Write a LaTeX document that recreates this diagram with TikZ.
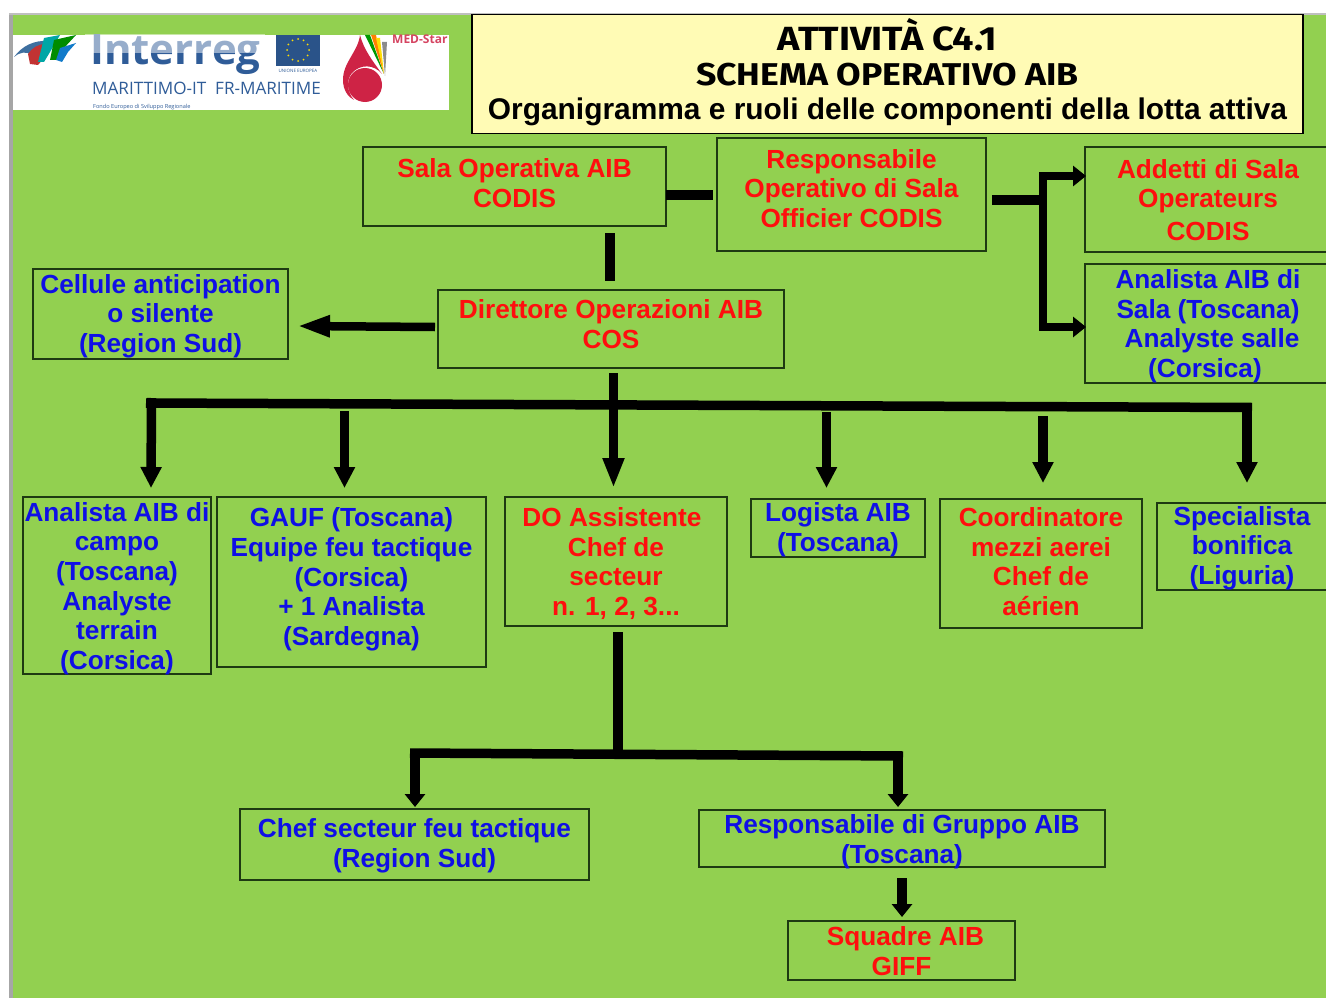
\documentclass[tikz,border=0pt]{standalone}
\usepackage{fontspec}
\setmainfont{Liberation Sans}
\newfontfamily\logofont{Open Sans}
\newfontfamily\headfont{Fira Sans}[FakeStretch=1.13]
\usetikzlibrary{arrows.meta,calc}
\definecolor{bggreen}{HTML}{92D050}
\definecolor{edgegreen}{HTML}{1E3A12}
\definecolor{titlebg}{HTML}{FFFBB5}
\definecolor{txtred}{HTML}{FF0E0E}
\definecolor{txtblue}{HTML}{0F0FE6}
\definecolor{logoblue}{HTML}{2F5C98}
\definecolor{dropred}{HTML}{CE2345}
\newcommand\boxtxt[2]{\makebox[0pt][c]{\raisebox{\dimexpr#1pt+0.5pt\relax}[0pt][0pt]{\vbox{\hsize=600pt\centering\baselineskip=29.7pt\lineskiplimit=-100pt #2\par}}}}
\tikzset{
  box/.style={draw=edgegreen,line width=1.4pt,inner sep=0pt,outer sep=0pt,font=\bfseries\fontsize{26.2}{29.7}\selectfont},
  redbox/.style={box,text=txtred},
  bluebox/.style={box,text=txtblue},
  conn/.style={line width=9.5pt,black},
  arrowlong/.style={conn,-{Triangle[length=30pt,width=20pt]}},
  arrowmid/.style={conn,-{Triangle[length=21pt,width=20pt]}},
  arrowside/.style={conn,-{Triangle[length=33pt,width=20pt]}},
  arrowshort/.style={conn,-{Triangle[length=13pt,width=20pt]}},
}
\begin{document}
\begin{tikzpicture}[x=1pt,y=-1pt]
\useasboundingbox (0,0) rectangle (1326,998);
\clip (0,0) rectangle (1326,998);
\fill[white] (0,0) rectangle (1326,998);
\fill[bggreen] (13,15) rectangle (1326,998);
\fill[black!35] (9,14) rectangle (13,998);
\fill[black!25] (9,13.5) rectangle (1326,15);
% logo
\fill[white] (13,35) rectangle (449,110);
\begin{scope}
\clip (13,35) rectangle (449,110);
\node[inner sep=0pt,anchor=base west,font=\logofont\bfseries\fontsize{42}{42}\selectfont,text=logoblue] (interreg) at (90,65) {Interreg};
\fill[white,opacity=.5] (85,30) rectangle (265,53);
\fill[logoblue!90!black] (276,35) rectangle (320,66);
\foreach \a in {0,30,...,330}{\fill[yellow!80!orange] ($(298,50)+(\a:11)$) circle (1);}
\node[inner sep=0pt,anchor=base,font=\logofont\fontsize{4.5}{5}\selectfont,text=logoblue] (eu) at (298,73) {UNIONE EUROPEA};
\node[inner sep=0pt,anchor=base west,font=\logofont\fontsize{17.1}{18}\selectfont,text=logoblue] (marit) at (92,95) {MARITTIMO-IT\ \ FR-MARITIME};
\node[inner sep=0pt,anchor=base west,font=\logofont\fontsize{5.6}{6}\selectfont,text=logoblue] (fondo) at (93,109) {Fondo Europeo di Sviluppo Regionale};
\node[inner sep=0pt,anchor=base west,font=\logofont\bfseries\fontsize{12}{12}\selectfont,text=dropred!85!white] (med) at (392,44) {MED-Star};
% left swoosh
\fill[cyan!60!blue!70!black] (14,57) .. controls (22,46) and (34,40) .. (48,41) .. controls (40,46) and (36,52) .. (32,55) .. controls (26,51) and (20,52) .. (14,57) -- cycle;
\fill[red!70!black!80] (28,54) .. controls (32,48) and (38,44) .. (46,44) -- (44,58) -- (38,65) -- (30,64) -- cycle;
\fill[teal!70!cyan] (44,38) -- (60,35) -- (50,52) -- (44,62) -- (38,62) -- cycle;
\fill[green!55!black] (54,40) -- (76,35) -- (64,48) -- (60,60) -- (50,60) -- cycle;
\fill[cyan!60!blue] (60,48) -- (76,43) -- (68,52) -- (62,62) -- (56,60) -- cycle;
% drop
\fill[dropred] (360,35) .. controls (358,52) and (343,62) .. (343,80) .. controls (343,90) and (348,97) .. (354,100) .. controls (347,92) and (346,80) .. (352,73) .. controls (360,64) and (374,64) .. (382,74) .. controls (372,60) and (364,50) .. (360,35) -- cycle;
\fill[dropred] (365,85) circle (17);
\fill[green!60!black] (365,35) -- (370,35) -- (384,74) -- cycle;
\fill[orange] (371,35) -- (376,35) -- (384,74) -- cycle;
\fill[yellow!80!orange] (376,38) -- (380,38) -- (384,74) -- cycle;
\fill[black!45] (382,42) -- (387,42) -- (385,76) -- cycle;
\end{scope}
% title
\node[draw=black,line width=1.4pt,fill=titlebg,inner sep=0pt,minimum width=831pt,minimum height=119pt,font=\bfseries\color{black}] (title) at (887.5,74) {\makebox[0pt][c]{\raisebox{-45.5pt}[0pt][0pt]{\vbox{\hsize=900pt\centering\lineskiplimit=-100pt\headfont\fontsize{33.5}{35}\selectfont ATTIVITÀ C4.1\\\fontsize{31.5}{35}\selectfont SCHEMA OPERATIVO AIB\\\rmfamily\fontsize{29.9}{34}\selectfont Organigramma e ruoli delle componenti della lotta attiva\par}}}};
% boxes
\node[redbox,minimum width=303pt,minimum height=79pt] (sala) at (514.5,186.5) {\boxtxt{-21.5}{Sala Operativa AIB\\CODIS}};
\node[redbox,minimum width=269pt,minimum height=113pt] (resp) at (851.5,194.5) {\boxtxt{-33.5}{Responsabile\\Operativo di Sala\\Officier CODIS}};
\node[redbox,minimum width=246pt,minimum height=105pt] (addetti) at (1208,199.5) {\boxtxt{-41.5}{Addetti di Sala\\Operateurs\\[3pt]CODIS}};
\node[bluebox,minimum width=246pt,minimum height=119pt] (anasala) at (1208,323.5) {\boxtxt{-54.5}{Analista AIB di\\Sala (Toscana)\\\hspace*{8pt}Analyste salle\\\hspace*{-6pt}(Corsica)}};
\node[bluebox,minimum width=255pt,minimum height=90pt] (cellule) at (160.5,314) {\boxtxt{-39}{Cellule anticipation\\o silente\\(Region Sud)}};
\node[redbox,minimum width=346pt,minimum height=78pt] (dir) at (611,329) {\boxtxt{-20}{Direttore Operazioni AIB\\COS}};
\node[bluebox,minimum width=188pt,minimum height=177pt] (campo) at (117,585.5) {\boxtxt{-84.5}{Analista AIB di\\campo\\(Toscana)\\Analyste\\terrain\\(Corsica)}};
\node[bluebox,minimum width=269pt,minimum height=170pt] (gauf) at (351.5,582) {\boxtxt{-64}{GAUF (Toscana)\\Equipe feu tactique\\(Corsica)\\+ 1 Analista\\(Sardegna)}};
\node[redbox,minimum width=222pt,minimum height=129pt] (do) at (616,561.5) {\boxtxt{-54.5}{\hspace*{-8pt}DO Assistente\\Chef de\\secteur\\n. 1, 2, 3...}};
\node[bluebox,minimum width=174pt,minimum height=58pt] (logista) at (838,528) {\boxtxt{-24}{Logista AIB\\(Toscana)}};
\node[redbox,minimum width=202pt,minimum height=129pt] (coord) at (1041,563.5) {\boxtxt{-52.5}{Coordinatore\\mezzi aerei\\Chef de\\aérien}};
\node[bluebox,minimum width=170pt,minimum height=87pt] (spec) at (1242,546.5) {\boxtxt{-38.5}{Specialista\\bonifica\\(Liguria)}};
\node[bluebox,minimum width=349pt,minimum height=71pt] (chef) at (414.5,844.5) {\boxtxt{-23.5}{Chef secteur feu tactique\\(Region Sud)}};
\node[bluebox,minimum width=406pt,minimum height=57pt] (respg) at (902,838.5) {\boxtxt{-25.5}{Responsabile di Gruppo AIB\\(Toscana)}};
\node[redbox,minimum width=227pt,minimum height=59pt] (squadre) at (901.5,950.5) {\boxtxt{-25.5}{\hspace*{8pt}Squadre AIB\\GIFF}};
% junctions
\coordinate (salaE) at (666,195); \coordinate (respW) at (713,195);
\coordinate (respE) at (992,200); \coordinate (j1) at (1043,200);
\coordinate (at1) at (1086,176);
\coordinate (at2) at (1086,327);
\coordinate (v1s) at (610,233); \coordinate (v1e) at (610,281);
\coordinate (cs) at (435,327);
\coordinate (ce) at (297,326);
\coordinate (busl) at (146,403);
\coordinate (busr) at (1252,407.5);
\coordinate (t1s) at (151.5,398); \coordinate (t1e) at (151,488);
\coordinate (t2s) at (344.5,411); \coordinate (t2e) at (344.5,488);
\coordinate (t3s) at (613.5,373); \coordinate (t3e) at (613.5,488);
\coordinate (t4s) at (826.5,412); \coordinate (t4e) at (826.5,488);
\coordinate (t5s) at (1043,416); \coordinate (t5e) at (1043,483);
\coordinate (t6s) at (1247,403); \coordinate (t6e) at (1247,483);
\coordinate (j2s) at (618,632); \coordinate (j2) at (618,750);
\coordinate (b2l) at (410,753); \coordinate (b2r) at (903,756);
\coordinate (l1s) at (415,748.5); \coordinate (l1e) at (415,807);
\coordinate (l2s) at (898,751.5); \coordinate (l2e) at (898,807);
\coordinate (r1s) at (902,878); \coordinate (r1e) at (902,917);
% connectors
\draw[conn] (salaE) -- (respW);
\draw[conn] (respE) -- (j1);
\draw[arrowshort,line width=8.5pt] (j1) |- (at1);
\draw[arrowshort,line width=8.5pt] (j1) |- (at2);
\draw[conn] (v1s) -- (v1e);
\draw[arrowside,line width=8.5pt] (cs) -- (ce);
\draw[conn] (busl) -- (busr);
\draw[arrowmid] (t1s) -- (t1e);
\draw[arrowmid] (t2s) -- (t2e);
\draw[arrowlong] (t3s) -- (t3e);
\draw[arrowmid] (t4s) -- (t4e);
\draw[arrowmid] (t5s) -- (t5e);
\draw[arrowmid] (t6s) -- (t6e);
\draw[conn] (j2s) -- (j2);
\draw[conn] (b2l) -- (b2r);
\draw[arrowshort] (l1s) -- (l1e);
\draw[arrowshort] (l2s) -- (l2e);
\draw[arrowshort] (r1s) -- (r1e);
\end{tikzpicture}
\end{document}
